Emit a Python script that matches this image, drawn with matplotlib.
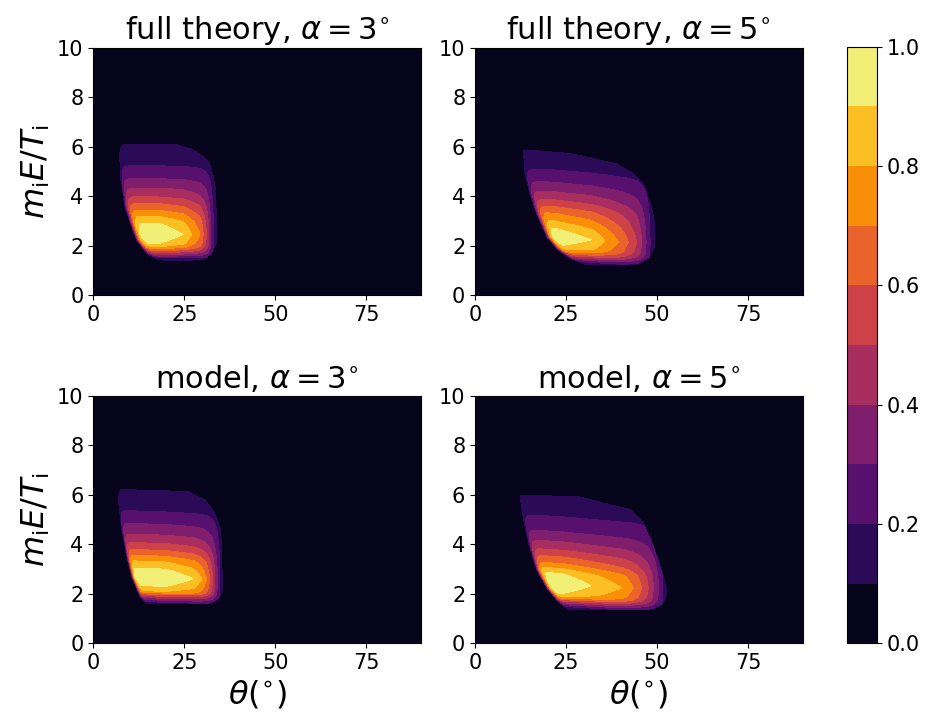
import numpy as np
import matplotlib
matplotlib.use("Agg")
import matplotlib.pyplot as plt

titles = [r"full theory, $\alpha = 3^{\circ}$", r"full theory, $\alpha = 5^{\circ}$",
          r"model, $\alpha = 3^{\circ}$", r"model, $\alpha = 5^{\circ}$"]
theta_ticks = [0, 25, 50, 75]
energy_ticks = [0, 2, 4, 6, 8, 10]
cbar_ticks = [0.0, 0.2, 0.4, 0.6, 0.8, 1.0]
levels = np.linspace(0, 1, 11)

# band values used by the vertical and horizontal profiles
prof_val = [0.12, 0.2, 0.3, 0.4, 0.5, 0.6, 0.7, 0.8, 0.9, 1.0,
            0.9, 0.8, 0.7, 0.6, 0.5, 0.4, 0.3, 0.2, 0.12]
right_val = [1.0, 0.9, 0.8, 0.7, 0.6, 0.5, 0.4, 0.3, 0.2, 0.12]
# fall-off next to the low-angle edge (degrees from edge -> value)
edge_d = [0.0, 0.4, 0.9, 1.5, 2.5]
edge_val = [0.12, 0.4, 0.7, 0.9, 1.0]

# full theory, alpha = 3
tl_left_e = [1.41, 1.68, 2.21, 2.75, 3.56, 4.63, 5.7, 5.95, 6.07]
tl_left_th = [18.0, 14.7, 11.9, 10.5, 8.7, 7.6, 7.1, 7.3, 8.0]
tl_right_e = [1.41, 1.7, 2.08, 4.23, 4.77, 5.3, 5.6, 5.9, 6.07]
tl_right_th = [30.2, 32.5, 33.7, 33.7, 33.0, 32.0, 30.3, 27.0, 23.0]
tl_prof_e = [1.41, 1.5, 1.57, 1.64, 1.72, 1.79, 1.87, 1.95, 2.08, 2.45,
             2.91, 3.18, 3.42, 3.69, 3.96, 4.32, 4.70, 5.22, 6.07]
tl_right_prof = [18.0, 24.7, 27.0, 29.3, 30.2, 31.1, 31.7, 32.3, 33.0, 33.7]
tl_tilt_th = [10, 35]
tl_tilt_e = [0.0, 0.0]

# full theory, alpha = 5
tr_left_e = [1.25, 1.48, 1.88, 2.35, 3.29, 4.09, 4.9, 5.87]
tr_left_th = [29.8, 26.1, 22.4, 19.7, 16.9, 15.1, 13.7, 13.1]
tr_right_e = [1.25, 1.5, 1.95, 3.0, 3.69, 4.5, 4.9, 5.3, 5.73, 5.87]
tr_right_th = [44.4, 47.8, 49.3, 49.2, 48.3, 46.2, 43.5, 38.9, 26.1, 13.1]
tr_prof_e = [1.25, 1.33, 1.4, 1.47, 1.54, 1.6, 1.67, 1.75, 1.88, 2.25,
             2.62, 2.91, 3.22, 3.49, 3.76, 4.09, 4.47, 4.97, 5.87]
tr_right_prof = [22.0, 32.0, 35.7, 39.4, 42.1, 44.4, 45.8, 47.0, 48.1, 49.3]
tr_tilt_th = [20, 40]
tr_tilt_e = [0.1, -0.1]

# model, alpha = 3
bl_left_e = [1.59, 1.9, 2.71, 3.52, 4.46, 5.41, 6.0, 6.22]
bl_left_th = [14.7, 12.8, 10.5, 9.2, 8.0, 7.1, 6.8, 7.4]
bl_right_e = [1.59, 1.8, 2.17, 4.6, 5.27, 5.81, 6.15, 6.22]
bl_right_th = [32.0, 34.3, 35.6, 35.0, 33.4, 30.7, 25.6, 6.7]
bl_prof_e = [1.59, 1.66, 1.74, 1.82, 1.9, 1.97, 2.03, 2.1, 2.3, 2.65,
             3.0, 3.29, 3.52, 3.75, 4.03, 4.37, 4.80, 5.31, 6.22]
bl_right_prof = [20.0, 27.5, 29.8, 31.1, 32.0, 32.8, 33.4, 34.1, 34.8, 35.6]
bl_tilt_th = [10, 30]
bl_tilt_e = [0.05, -0.05]

# model, alpha = 5
br_left_e = [1.38, 1.76, 2.24, 2.98, 4.06, 5.0, 5.98]
br_left_th = [25.2, 22.4, 19.7, 16.9, 14.7, 13.3, 12.2]
br_right_e = [1.38, 1.6, 2.03, 2.71, 3.92, 4.87, 5.41, 5.61, 5.92, 6.02]
br_right_th = [48.5, 51.5, 52.8, 51.7, 49.0, 46.2, 42.6, 37.1, 28.8, 12.2]
br_prof_e = [1.38, 1.45, 1.52, 1.59, 1.66, 1.72, 1.78, 1.85, 1.97, 2.35,
             2.78, 2.98, 3.18, 3.45, 3.72, 4.06, 4.46, 5.07, 6.02]
br_right_prof = [24.0, 32.0, 40.3, 43.5, 45.8, 47.6, 49.0, 50.4, 51.6, 52.8]
br_tilt_th = [18, 40]
br_tilt_e = [0.1, -0.1]

edge_width = [1.0, 1.0, 0.6, 0.8]

panels = [
    (tl_left_e, tl_left_th, tl_right_e, tl_right_th, tl_prof_e, tl_right_prof, tl_tilt_th, tl_tilt_e),
    (tr_left_e, tr_left_th, tr_right_e, tr_right_th, tr_prof_e, tr_right_prof, tr_tilt_th, tr_tilt_e),
    (bl_left_e, bl_left_th, bl_right_e, bl_right_th, bl_prof_e, bl_right_prof, bl_tilt_th, bl_tilt_e),
    (br_left_e, br_left_th, br_right_e, br_right_th, br_prof_e, br_right_prof, br_tilt_th, br_tilt_e),
]

theta = np.linspace(0, 90, 901)
energy = np.linspace(0, 10, 601)
TH, EN = np.meshgrid(theta, energy)


def softmin(a, b):
    return a * b / np.maximum(a + b - a * b, 1e-9)


def build_field(p, width):
    left_e, left_th, right_e, right_th, prof_e, right_prof, tilt_th, tilt_e = p
    lo = np.interp(EN, left_e, left_th)
    hi = np.interp(EN, right_e, right_th)
    inside = (EN >= left_e[0]) & (EN <= left_e[-1]) & (TH >= lo) & (TH <= hi)
    shift = np.interp(TH, tilt_th, tilt_e)
    a = np.interp(EN - shift, prof_e, prof_val)
    r = np.interp(TH, right_prof, right_val)
    l = np.interp((TH - lo) / width, edge_d, edge_val)
    z = softmin(softmin(a, r), l)
    return np.where(inside, z, 0.0)


fig = plt.figure(figsize=(9.31, 7.17), dpi=100)
lefts = [0.1002, 0.5102]
bottoms = [0.5886, 0.1027]
ax_w, ax_h = 0.3519, 0.345

cs = None
for i, p in enumerate(panels):
    row, col = divmod(i, 2)
    ax = fig.add_axes([lefts[col], bottoms[row], ax_w, ax_h])
    z = build_field(p, edge_width[i])
    cs = ax.contourf(theta, energy, z, levels=levels, cmap="inferno")
    ax.set_xlim(0, 90)
    ax.set_ylim(0, 10)
    ax.set_xticks(theta_ticks)
    ax.set_yticks(energy_ticks)
    ax.tick_params(labelsize=15)
    ax.set_title(titles[i], fontsize=22)
    if col == 0:
        ax.set_ylabel(r"$m_{\rm i}E/T_{\rm i}$", fontsize=23)
    if row == 1:
        ax.set_xlabel(r"$\theta(^{\circ})$", fontsize=23)

cax = fig.add_axes([0.9095, 0.1027, 0.0329, 0.8322])
cb = fig.colorbar(cs, cax=cax, ticks=cbar_ticks)
cb.ax.tick_params(labelsize=15)

fig.savefig("out.png", dpi=100)
